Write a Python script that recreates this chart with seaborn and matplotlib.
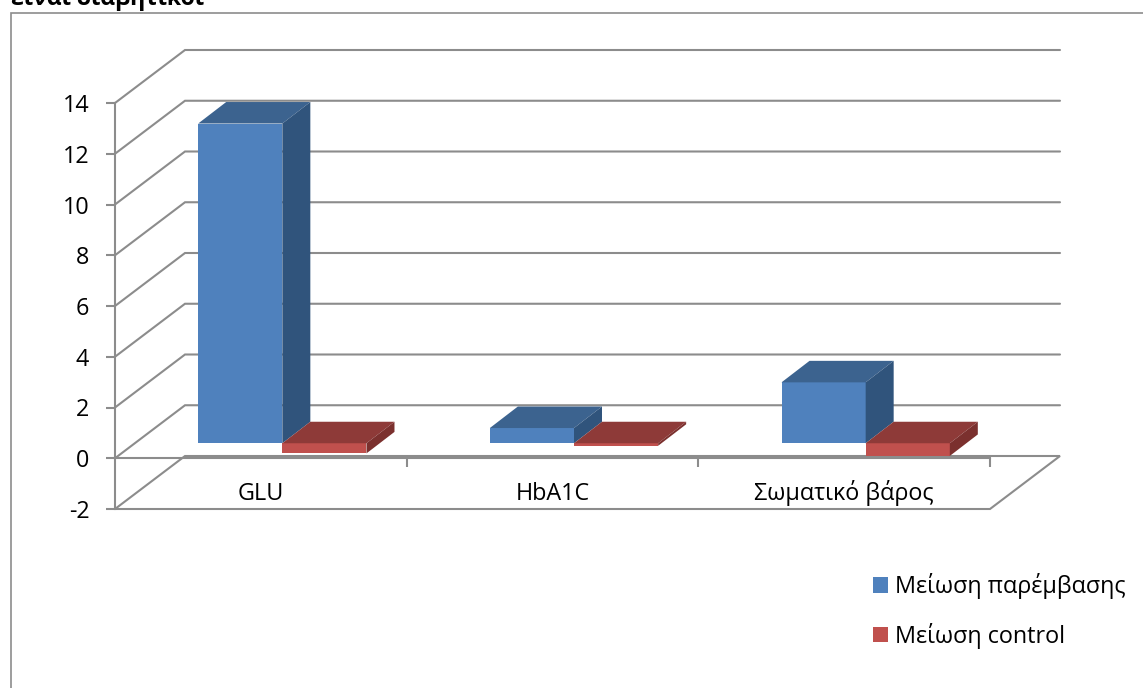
import matplotlib
matplotlib.use("Agg")
import matplotlib.pyplot as plt
from matplotlib.lines import Line2D
from matplotlib.patches import Polygon
import pandas as pd
import seaborn as sns

# Chart data
categories = ["GLU", "HbA1C", "Σωματικό βάρος"]
series_names = ["Μείωση παρέμβασης", "Μείωση control"]
intervention = [12.6, 0.6, 2.4]
control = [-0.4, -0.1, -0.5]
value_ticks = [-2, 0, 2, 4, 6, 8, 10, 12, 14]
heading = "είναι διαβητικοί"

# Face colours per series: front, top, side
front_colors = ["#4F81BD", "#C0504D"]
top_colors = ["#3C638F", "#8E3A38"]
side_colors = ["#30547C", "#7B302E"]
GRID = "#8C8C8C"

W, H = 1143, 688
LABEL_SIZE = 16.8
sns.set_theme(style="white")
plt.rcParams["font.family"] = ["Open Sans", "DejaVu Sans"]
plt.rcParams["axes.unicode_minus"] = False
plt.rcParams["text.color"] = "black"

fig = plt.figure(figsize=(W / 100, H / 100), dpi=100, facecolor="white")


def box(x0, x1, y_top, y_bottom):
    """Axes rectangle from pixel edges measured from the top-left corner."""
    return [x0 / W, 1 - y_bottom / H, (x1 - x0) / W, (y_bottom - y_top) / H]


# Front plane carries the value axis, the category axis and the wall grid
ax = fig.add_axes(box(115, 990, 103, 509))
ax.set_xlim(-0.5, 2.5)
ax.set_ylim(-2, 14)
ax.patch.set_visible(False)
for name in ["top", "right"]:
    ax.spines[name].set_visible(False)
ax.spines["left"].set_color(GRID)
ax.spines["left"].set_linewidth(1.5)
ax.spines["bottom"].set_position(("data", 0))
ax.spines["bottom"].set_color(GRID)
ax.spines["bottom"].set_linewidth(1.5)

ax.set_yticks(value_ticks)
ax.set_yticklabels([str(v) for v in value_ticks], va="center_baseline")
ax.tick_params(axis="y", length=6.5, width=1.5, color=GRID, pad=12,
               labelsize=LABEL_SIZE, labelcolor="black", left=True)
ax.set_xticks(range(len(categories)))
ax.set_xticklabels(categories, va="baseline")
ax.tick_params(axis="x", which="major", length=0, pad=30, labelsize=LABEL_SIZE,
               labelcolor="black")
ax.set_xticks([0.5, 1.5, 2.5], minor=True)
ax.tick_params(axis="x", which="minor", length=6.5, width=1.5, color=GRID,
               bottom=True)

# Oblique depth of the walls, in data units of the front plane
wall_dx = 70 / (875 / 3)
wall_dy = 53 / (406 / 16)
x_l, x_r = -0.5, 2.5
for v in value_ticks[1:]:
    ax.plot([x_l, x_l + wall_dx, x_r + wall_dx], [v, v + wall_dy, v + wall_dy],
            color=GRID, lw=1.5, clip_on=False, solid_joinstyle="miter", zorder=1)
floor = [(x_l, -2), (x_r, -2), (x_r + wall_dx, -2 + wall_dy), (x_l + wall_dx, -2 + wall_dy)]
ax.add_patch(Polygon(floor, closed=True, fill=False, edgecolor=GRID, lw=1.5,
                     clip_on=False, zorder=1))

# Bars stand on a plane set back from the front of the floor
shift_x, shift_y = 21.5, 15
ax_bar = fig.add_axes(box(115 + shift_x, 990 + shift_x, 103 - shift_y, 509 - shift_y))
ax_bar.patch.set_visible(False)

frame = pd.DataFrame({
    "category": categories * 2,
    "series": [series_names[0]] * 3 + [series_names[1]] * 3,
    "value": intervention + control,
})
sns.barplot(data=frame, x="category", y="value", hue="series", hue_order=series_names,
            palette=front_colors, saturation=1, width=0.577, gap=0, linewidth=0,
            ax=ax_bar)
ax_bar.set_xlim(-0.5, 2.5)
ax_bar.set_ylim(-2, 14)
ax_bar.set_axis_off()

# Extrude each bar backwards with top and side faces
bar_dx = 28 / (875 / 3)
bar_dy = 21.5 / (406 / 16)
for i, container in enumerate(ax_bar.containers):
    for patch in container:
        x0, x1 = patch.get_x(), patch.get_x() + patch.get_width()
        y0, y1 = sorted((patch.get_y(), patch.get_y() + patch.get_height()))
        top = [(x0, y1), (x1, y1), (x1 + bar_dx, y1 + bar_dy), (x0 + bar_dx, y1 + bar_dy)]
        side = [(x1, y0), (x1, y1), (x1 + bar_dx, y1 + bar_dy), (x1 + bar_dx, y0 + bar_dy)]
        ax_bar.add_patch(Polygon(top, closed=True, facecolor=top_colors[i], lw=0, clip_on=False))
        ax_bar.add_patch(Polygon(side, closed=True, facecolor=side_colors[i], lw=0, clip_on=False))

sns.move_legend(ax_bar, "upper left", bbox_to_anchor=(873 / W, 1 - 573 / H),
                bbox_transform=fig.transFigure, title=None, frameon=False, fontsize=LABEL_SIZE,
                handlelength=0.64, handleheight=0.64, handletextpad=0.3,
                labelspacing=1.02, borderpad=0, borderaxespad=0, labelcolor="black")

# Chart frame, open towards the bottom and right edges
fig.add_artist(Line2D([11 / W, 11 / W, 1], [0, 1 - 13 / H, 1 - 13 / H],
                      color=GRID, lw=1.2, solid_joinstyle="miter"))

fig.text(11 / W, 1 - 5 / H, heading, fontsize=16.6, fontweight="bold",
         color="black", ha="left", va="baseline")

fig.savefig("out.png", dpi=100)
